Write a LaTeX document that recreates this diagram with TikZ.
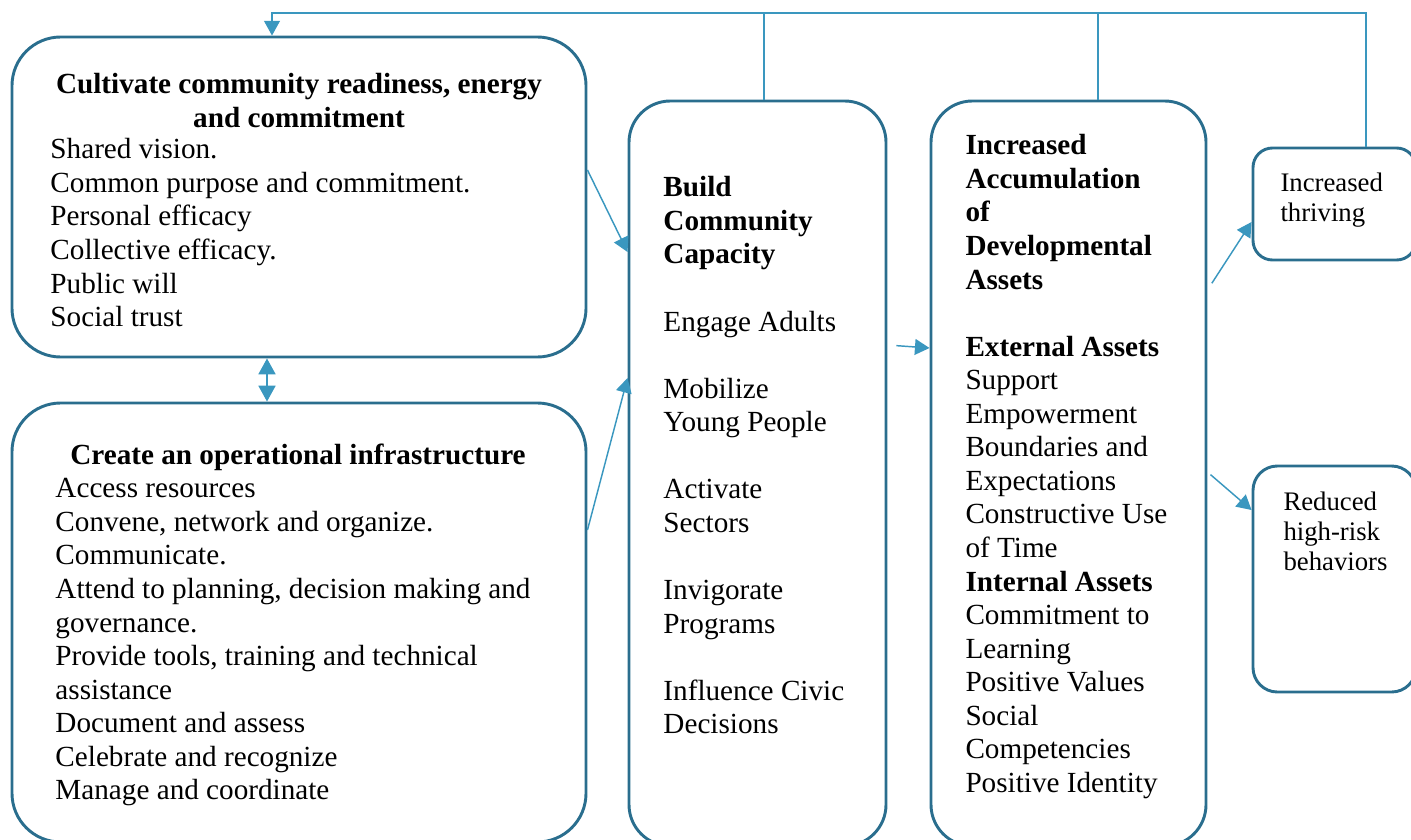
\documentclass[tikz,border=0pt]{standalone}
\usepackage{fontspec}
\setmainfont{Liberation Serif}
\usetikzlibrary{arrows.meta,fit}

\definecolor{boxline}{HTML}{2A6E8E}
\definecolor{arrowblue}{HTML}{3A97BF}

\tikzset{
  stage/.style={draw=boxline, line width=1.2pt, inner sep=0pt, rounded corners=#1},
  stage/.default=20pt,
  blurb/.style={anchor=north west, align=left, inner sep=0pt, font=\fontsize{12}{13.8}\selectfont},
  heading/.style={anchor=north, align=center, inner sep=0pt, font=\fontsize{12}{13.8}\selectfont\bfseries},
  smallblurb/.style={anchor=north west, align=left, inner sep=0pt, font=\fontsize{11}{12.4}\selectfont},
  link/.style={draw=arrowblue, line width=0.6pt, -{Triangle[length=6pt,width=6.5pt]}},
  feed/.style={draw=arrowblue, line width=0.5pt},
}

\begin{document}
\begin{tikzpicture}[x=0.01445cm, y=-0.01445cm]
	%%%%% FRAME %%%%%
	\useasboundingbox (0,0) rectangle (1411,840);
	\clip (0,0) rectangle (1411,840);
	
	%%%%% STAGES %%%%%
	\node[stage=20pt, fit={(12,37) (586,357)}] (cult) {};
	\node[stage=20pt, fit={(12,403) (586,842)}] (infra) {};
	\node[stage=17pt, fit={(629,101) (886,846)}] (build) {};
	\node[stage=17pt, fit={(931,101) (1206,846)}] (assets) {};
	\node[stage=8pt, fit={(1253,148) (1416,260)}] (thrive) {};
	\node[stage=10pt, fit={(1253,466) (1416,692)}] (risk) {};
	
	%%%%% TEXTS %%%%%
	\node[heading] (cultHead) at (299,73) {Cultivate community readiness, energy\\ and commitment};
	\node[blurb] (cultList) at (50,138) {Shared vision.\\ Common purpose and commitment.\\ Personal efficacy\\
		Collective efficacy.\\ Public will\\ Social trust};
	
	\node[heading] (infraHead) at (298,443) {Create an operational infrastructure};
	\node[blurb] (infraList) at (55,478) {Access resources\\ Convene, network and organize.\\ Communicate.\\
		Attend to planning, decision making and\\ governance.\\ Provide tools, training and technical\\
		assistance\\ Document and assess\\ Celebrate and recognize\\ Manage and coordinate};
	
	\node[blurb] (buildList) at (663,176) {\textbf{Build}\\ \textbf{Community}\\ \textbf{Capacity}\\[13.8pt]
		Engage Adults\\[13.8pt] Mobilize\\ Young People\\[13.8pt] Activate\\ Sectors\\[13.8pt]
		Invigorate\\ Programs\\[13.8pt] Influence Civic\\ Decisions};
	
	\node[blurb] (assetsList) at (965,134) {\textbf{Increased}\\ \textbf{Accumulation}\\ \textbf{of}\\
		\textbf{Developmental}\\ \textbf{Assets}\\[13.8pt] \textbf{External Assets}\\ Support\\ Empowerment\\
		Boundaries and\\ Expectations\\ Constructive Use\\ of Time\\ \textbf{Internal Assets}\\
		Commitment to\\ Learning\\ Positive Values\\ Social\\ Competencies\\ Positive Identity};
	
	\node[smallblurb] (thriveText) at (1280,172) {Increased\\ thriving};
	\node[smallblurb] (riskText) at (1283,491) {Reduced\\ high-risk\\ behaviors};
	
	%%%%% LINKS %%%%%
	\draw[link] (cult.east |- 0,170) -- (build.west |- 0,252);
	\draw[link] (infra.east |- 0,530) -- (build.west |- 0,378);
	\draw[link, {Triangle[length=6.5pt,width=7pt]}-{Triangle[length=6.5pt,width=7pt]}]
		(cult.south -| 267,0) -- (infra.north -| 267,0);
	\draw[link, shorten <=9*0.411pt] (build.east |- 0,345) -- (assets.west |- 0,348);
	\draw[link, shorten <=8*0.411pt] (assets.east |- 0,290) -- (thrive.west |- 0,222);
	\draw[link, shorten <=4*0.411pt] (assets.east |- 0,472) -- (risk.west |- 0,510);
	
	%%%%% FEEDBACK %%%%%
	\draw[feed, -{Triangle[length=6pt,width=6.5pt]}] (thrive.north -| 1366,0) -- (1366,13) -- (272,13) -- (cult.north -| 272,0);
	\draw[feed] (build.north -| 764,0) -- (764,13);
	\draw[feed] (assets.north -| 1098,0) -- (1098,13);
\end{tikzpicture}
\end{document}
